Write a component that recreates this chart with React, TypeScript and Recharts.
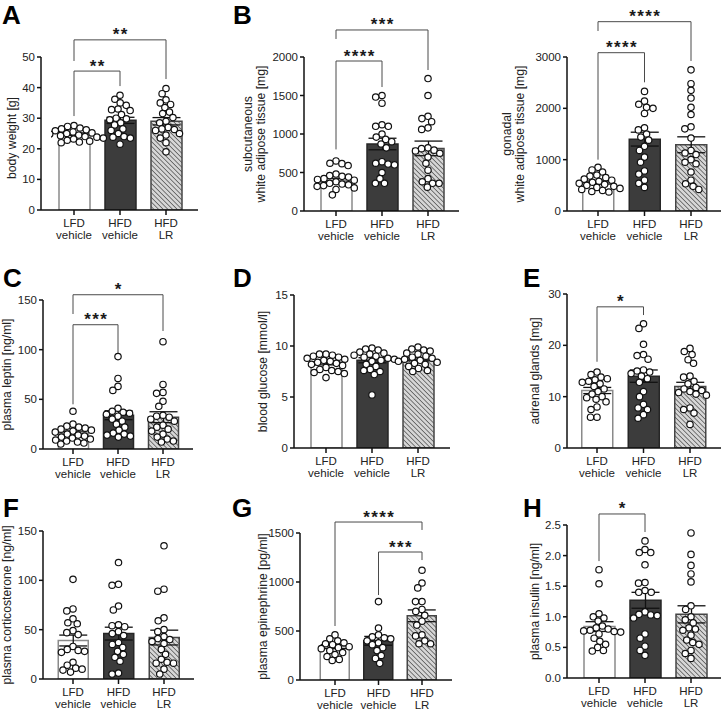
import React from 'react';
import { ComposedChart, Bar, Cell, XAxis, YAxis, Scatter, ErrorBar, ReferenceLine } from 'recharts';

const FONT = '"Liberation Sans", Arial, Helvetica, sans-serif';

const categories = ['LFD vehicle', 'HFD vehicle', 'HFD LR'];

type Bracket = { from: number; to: number; y: number; leftEnd: number; rightEnd: number; label: string };

// A: body weight
const bodyWeightMean = [24.8, 29.3, 29.0];
const bodyWeightSem = [0.4, 1.0, 1.2];
const bodyWeightPoints = [
  [27.6, 27.3, 26.8, 26.5, 26.2, 25.9, 25.5, 25.2, 25.0, 24.8, 24.5, 24.3, 24.0, 23.8, 23.5, 23.2, 22.8, 22.5, 22.2, 22.0],
  [37.5, 36.2, 35.0, 34.2, 33.0, 32.8, 32.5, 31.2, 30.0, 29.8, 29.5, 28.5, 27.8, 26.5, 26.0, 25.0, 24.0, 23.8, 23.5, 21.5],
  [39.7, 38.0, 36.0, 35.0, 34.5, 33.5, 32.0, 31.5, 30.2, 29.0, 28.5, 27.0, 26.5, 26.3, 26.0, 25.0, 24.5, 23.5, 22.0, 19.0],
];
const bodyWeightTicks = [0, 10, 20, 30, 40, 50];
const bodyWeightBrackets: Bracket[] = [
  { from: 1, to: 3, y: 55.6, leftEnd: 48.7, rightEnd: 42.8, label: '**' },
  { from: 1, to: 2, y: 45.4, leftEnd: 30.7, rightEnd: 40.5, label: '**' },
];

// B: subcutaneous WAT
const scWatMean = [400, 870, 813];
const scWatSem = [25, 75, 95];
const scWatPoints = [
  [650, 620, 615, 590, 480, 460, 450, 440, 420, 410, 400, 380, 360, 350, 340, 330, 320, 300, 280, 210],
  [1500, 1480, 1400, 1120, 1100, 1100, 1000, 960, 930, 900, 870, 820, 640, 620, 610, 600, 500, 420, 360, 360],
  [1720, 1500, 1230, 1200, 1160, 1080, 1060, 820, 810, 790, 780, 750, 700, 620, 530, 420, 380, 360, 360, 310],
];
const scWatTicks = [0, 500, 1000, 1500, 2000];
const scWatBrackets: Bracket[] = [
  { from: 1, to: 3, y: 2351, leftEnd: 2234, rightEnd: 1831, label: '***' },
  { from: 1, to: 2, y: 1948, leftEnd: 800, rightEnd: 1610, label: '****' },
];

// B: gonadal WAT
const gonWatMean = [555, 1400, 1290];
const gonWatSem = [30, 135, 155];
const gonWatPoints = [
  [850, 800, 760, 700, 680, 650, 620, 600, 580, 560, 540, 520, 500, 480, 460, 440, 420, 400, 380, 370],
  [2330, 2140, 2080, 2020, 2000, 1900, 1620, 1580, 1500, 1440, 1380, 1260, 1180, 1050, 950, 780, 720, 600, 540, 460],
  [2750, 2480, 2350, 2200, 2020, 1880, 1640, 1600, 1420, 1180, 1130, 1100, 1000, 950, 920, 760, 600, 530, 480, 420],
];
const gonWatTicks = [0, 1000, 2000, 3000];
const gonWatBrackets: Bracket[] = [
  { from: 1, to: 3, y: 3688, leftEnd: 3507, rightEnd: 2922, label: '****' },
  { from: 1, to: 2, y: 3084, leftEnd: 1000, rightEnd: 2507, label: '****' },
];

// C: plasma leptin
const leptinMean = [16, 34, 32];
const leptinSem = [2, 4.5, 5.5];
const leptinPoints = [
  [38, 25, 23, 22, 21, 20, 19, 18, 17, 15, 14, 13, 12, 11, 10, 9, 8, 7, 6, 5],
  [93, 71, 63, 59, 41, 38, 37, 36, 35, 33, 30, 28, 25, 22, 19, 16, 15, 14, 13, 12],
  [108, 65, 57, 56, 48, 43, 34, 33, 32, 30, 28, 24, 22, 20, 18, 15, 12, 10, 8, 7],
];
const leptinTicks = [0, 50, 100, 150];
const leptinBrackets: Bracket[] = [
  { from: 1, to: 3, y: 155.3, leftEnd: 135.9, rightEnd: 118.8, label: '*' },
  { from: 1, to: 2, y: 125.1, leftEnd: 45, rightEnd: 96.6, label: '***' },
];

// D: blood glucose
const glucoseMean = [8.3, 8.6, 8.7];
const glucoseSem = [0.15, 0.25, 0.15];
const glucosePoints = [
  [9.2, 9.2, 9.1, 9.0, 8.9, 8.8, 8.7, 8.6, 8.5, 8.4, 8.3, 8.2, 8.1, 7.9, 7.7, 7.6, 7.5, 7.4, 7.3, 6.9],
  [9.8, 9.7, 9.6, 9.4, 9.3, 9.2, 9.1, 9.0, 8.9, 8.8, 8.7, 8.6, 8.5, 8.2, 8.0, 7.7, 7.6, 7.5, 7.2, 5.2],
  [9.9, 9.7, 9.6, 9.5, 9.3, 9.2, 9.0, 8.9, 8.8, 8.7, 8.6, 8.5, 8.4, 8.3, 8.2, 8.0, 7.8, 7.6, 7.5],
];
const glucoseTicks = [0, 5, 10, 15];

// E: adrenal glands
const adrenalMean = [11.2, 14.0, 12.0];
const adrenalSem = [0.6, 1.2, 0.8];
const adrenalPoints = [
  [14.8, 14.3, 13.8, 13.5, 13.3, 13.0, 12.8, 12.5, 12.0, 11.5, 11.0, 10.5, 10.0, 9.8, 9.5, 9.0, 8.0, 7.5, 6.0, 6.0],
  [24.2, 23.3, 20.2, 18.2, 18.0, 17.3, 15.2, 15.0, 14.8, 14.5, 14.0, 13.5, 12.8, 11.0, 10.0, 8.5, 7.8, 7.5, 6.5, 5.8],
  [19.4, 18.8, 18.2, 17.2, 16.5, 14.0, 13.8, 13.0, 12.5, 11.8, 11.5, 11.2, 11.0, 10.8, 10.5, 10.3, 7.8, 7.5, 6.8, 4.6],
];
const adrenalTicks = [0, 10, 20, 30];
const adrenalBrackets: Bracket[] = [
  { from: 1, to: 2, y: 27.5, leftEnd: 16.8, rightEnd: 25.9, label: '*' },
];

// F: plasma corticosterone
const corticoMean = [39, 46, 42];
const corticoSem = [5.5, 6.5, 7.5];
const corticoPoints = [
  [101, 71, 69, 61, 57, 56, 49, 47, 45, 33, 30, 29, 28, 27, 17, 14, 11, 10, 9, 7],
  [118, 96, 95, 74, 70, 55, 54, 53, 48, 46, 44, 37, 35, 32, 28, 25, 22, 18, 6, 5],
  [135, 91, 89, 62, 59, 50, 48, 43, 41, 40, 38, 36, 30, 25, 20, 17, 16, 16, 10, 5],
];
const corticoTicks = [0, 50, 100, 150];

// G: plasma epinephrine
const epiMean = [340, 400, 655];
const epiSem = [20, 45, 60];
const epiPoints = [
  [460, 420, 400, 380, 370, 360, 340, 330, 320, 300, 280, 260, 240, 210, 200],
  [800, 530, 460, 440, 430, 420, 400, 380, 360, 330, 300, 250, 220, 170],
  [1120, 990, 940, 800, 800, 720, 700, 660, 600, 560, 460, 450, 400, 370, 370],
];
const epiTicks = [0, 500, 1000, 1500];
const epiBrackets: Bracket[] = [
  { from: 1, to: 3, y: 1612, leftEnd: 551, rightEnd: 1531, label: '****' },
  { from: 2, to: 3, y: 1306, leftEnd: 867, rightEnd: 1224, label: '***' },
];

// H: plasma insulin
const insulinMean = [0.84, 1.27, 1.04];
const insulinSem = [0.08, 0.13, 0.14];
const insulinPoints = [
  [1.77, 1.54, 1.05, 1.0, 0.98, 0.93, 0.85, 0.82, 0.8, 0.78, 0.77, 0.76, 0.75, 0.72, 0.65, 0.6, 0.55, 0.5, 0.45, 0.44],
  [2.24, 2.1, 2.05, 2.05, 1.85, 1.56, 1.55, 1.43, 1.4, 1.4, 1.08, 1.04, 1.03, 1.02, 0.98, 0.72, 0.65, 0.52, 0.45, 0.37],
  [2.37, 2.02, 1.84, 1.7, 1.57, 1.18, 1.12, 1.0, 0.95, 0.9, 0.82, 0.8, 0.78, 0.7, 0.62, 0.58, 0.55, 0.45, 0.4, 0.32],
];
const insulinTicks = [0, 0.5, 1.0, 1.5, 2.0, 2.5];
const insulinBrackets: Bracket[] = [
  { from: 1, to: 2, y: 2.68, leftEnd: 1.91, rightEnd: 2.385, label: '*' },
];

// ---------- layout ----------
type Layout = {
  left: number; top: number; width: number; height: number;
  axisX: number; plotTop: number; plotBottom: number; plotRight: number;
  c1: number; c3: number; titleX: number[]; titleY?: number; barSize: number;
};

const layA: Layout = { left: 0, top: 0, width: 236, height: 250, axisX: 41, plotTop: 57, plotBottom: 210, plotRight: 198, c1: 74, c3: 166, titleX: [12], titleY: 138, barSize: 31 };
const layB: Layout = { left: 236, top: 0, width: 238, height: 250, axisX: 304, plotTop: 57, plotBottom: 211, plotRight: 459, c1: 336, c3: 428, titleX: [248, 261], barSize: 31 };
const layB2: Layout = { left: 474, top: 0, width: 248, height: 250, axisX: 567, plotTop: 57, plotBottom: 211, plotRight: 721, c1: 598, c3: 691, titleX: [507, 521], barSize: 31 };
const layC: Layout = { left: 0, top: 240, width: 236, height: 245, axisX: 43, plotTop: 300, plotBottom: 449, plotRight: 193, c1: 73, c3: 163, titleX: [7], barSize: 30 };
const layD: Layout = { left: 236, top: 240, width: 238, height: 245, axisX: 294, plotTop: 295, plotBottom: 448, plotRight: 450, c1: 326, c3: 418, titleX: [263], barSize: 31 };
const layE: Layout = { left: 474, top: 240, width: 248, height: 245, axisX: 567, plotTop: 294, plotBottom: 448, plotRight: 721, c1: 597, c3: 690, titleX: [535], barSize: 31 };
const layF: Layout = { left: 0, top: 470, width: 236, height: 240, axisX: 43, plotTop: 531, plotBottom: 679, plotRight: 194, c1: 73, c3: 164, titleX: [7], barSize: 30 };
const layG: Layout = { left: 236, top: 470, width: 238, height: 240, axisX: 300, plotTop: 533, plotBottom: 680, plotRight: 452, c1: 335, c3: 422, titleX: [263], barSize: 29 };
const layH: Layout = { left: 474, top: 470, width: 248, height: 240, axisX: 567, plotTop: 525, plotBottom: 678, plotRight: 721, c1: 599, c3: 691, titleX: [535], barSize: 31 };

const BAR_FILL = ['#ffffff', '#3c3c3c', 'url(#hatchLR)'];
const BAR_STROKE = ['#8a8a8a', '#262626', '#454545'];
const DOT_R = 3.2;

function swarm(values: number[], pxPerUnit: number, r: number) {
  const d = 2 * r + 0.1;
  const placed: { y: number; dx: number; v: number }[] = [];
  const sorted = [...values].sort((a, b) => b - a);
  for (const v of sorted) {
    const y = v * pxPerUnit;
    const intervals: [number, number][] = [];
    for (const p of placed) {
      const dy = Math.abs(p.y - y);
      if (dy < d) {
        const w = Math.sqrt(d * d - dy * dy);
        intervals.push([p.dx - w, p.dx + w]);
      }
    }
    const cands = [0];
    intervals.forEach(([a, b]) => { cands.push(a, b); });
    const order = cands.map((c, i) => ({ c, i })).sort((a, b) => Math.abs(a.c) - Math.abs(b.c) || a.i - b.i);
    let best = 0;
    for (const { c } of order) {
      if (intervals.every(([a, b]) => c <= a + 1e-6 || c >= b - 1e-6)) { best = c; break; }
    }
    placed.push({ y, dx: best, v });
  }
  return placed;
}

const XTick = (props: any) => {
  const { x, y, payload } = props;
  const parts = String(payload.value).split(' ');
  return (
    <text x={x} y={y} textAnchor="middle" fontSize={11.5} fontFamily={FONT} fill="#222">
      <tspan x={x} dy={10}>{parts[0]}</tspan>
      <tspan x={x} dy={12.2}>{parts[1]}</tspan>
    </text>
  );
};

const YTitle = (props: any) => {
  const { tx, ty, lines } = props;
  return (
    <text transform={`translate(${tx},${ty}) rotate(-90)`} textAnchor="middle" fontSize={12.2} fontFamily={FONT} fill="#222">
      {lines.map((l: string, i: number) => (
        <tspan key={i} x={0} dy={i === 0 ? 0 : 13}>{l}</tspan>
      ))}
    </text>
  );
};

const Stars = (props: any) => {
  const vb = props.viewBox || {};
  return (
    <text x={vb.x + vb.width / 2 + 0.7} y={vb.y + 0.5} textAnchor="middle" fontSize={17} fontWeight={700} letterSpacing={1.4} fontFamily={FONT} fill="#1a1a1a">
      {props.text}
    </text>
  );
};

const Dot = (props: any) => (
  <circle cx={props.cx} cy={props.cy} r={DOT_R} fill="#ffffff" stroke="#111" strokeWidth={1.2} />
);

type PanelProps = {
  lay: Layout; title: string[]; mean: number[]; sem: number[]; points: number[][];
  ticks: number[]; brackets?: Bracket[]; decimals?: number;
};

function Panel({ lay, title, mean, sem, points, ticks, brackets = [], decimals = 0 }: PanelProps) {
  const band = (lay.c3 - lay.c1) / 2;
  const padL = lay.c1 - band / 2 - lay.axisX;
  const padR = lay.plotRight - (lay.c3 + band / 2);
  const yMax = ticks[ticks.length - 1];
  const pxPerUnit = (lay.plotBottom - lay.plotTop) / yMax;
  const barData = categories.map((c, i) => ({ name: c, mean: mean[i], sem: sem[i] }));
  const scatterData: { px: number; py: number }[] = [];
  points.forEach((vals, g) => {
    swarm(vals, pxPerUnit, DOT_R).forEach((p) => scatterData.push({ px: g + 1 + p.dx / band, py: p.v }));
  });
  const xAxisH = lay.top + lay.height - lay.plotBottom;
  const titleCenterY = (lay.titleY ?? (lay.plotTop + lay.plotBottom) / 2) - lay.top;
  const titleBaseX = lay.titleX[0] + 4.2 - lay.left;
  const lineStyle = { stroke: '#4a4a4a', strokeWidth: 1 };

  return (
    <div style={{ position: 'absolute', left: lay.left, top: lay.top }}>
      <ComposedChart
        width={lay.width}
        height={lay.height}
        data={barData}
        margin={{ top: lay.plotTop - lay.top, right: lay.left + lay.width - lay.plotRight, bottom: 0, left: 0 }}
      >
        <XAxis
          xAxisId="cat"
          dataKey="name"
          type="category"
          height={xAxisH}
          padding={{ left: padL, right: padR }}
          tick={<XTick />}
          tickSize={5}
          tickMargin={2}
          interval={0}
          axisLine={{ stroke: '#111', strokeWidth: 1.5 }}
          tickLine={{ stroke: '#111', strokeWidth: 1.5 }}
        />
        <XAxis
          xAxisId="num"
          dataKey="px"
          type="number"
          domain={[0.5, 3.5]}
          allowDataOverflow
          hide
          height={0}
          padding={{ left: padL, right: padR }}
        />
        <YAxis
          width={lay.axisX - lay.left}
          domain={[0, yMax]}
          ticks={ticks}
          interval={0}
          allowDataOverflow
          tickSize={4}
          tickMargin={2}
          tickFormatter={(v: number) => v.toFixed(decimals)}
          tick={{ fill: '#222', fontSize: 11.5, fontFamily: FONT }}
          axisLine={{ stroke: '#111', strokeWidth: 1.5 }}
          tickLine={{ stroke: '#111', strokeWidth: 1.5 }}
          label={<YTitle tx={titleBaseX} ty={titleCenterY} lines={title} />}
        />
        <Bar xAxisId="cat" dataKey="mean" barSize={lay.barSize} isAnimationActive={false} strokeWidth={1.5}>
          {barData.map((_, i) => (
            <Cell key={i} fill={BAR_FILL[i]} stroke={BAR_STROKE[i]} />
          ))}
          <ErrorBar dataKey="sem" direction="y" width={14} stroke="#111" strokeWidth={1.3} isAnimationActive={false} />
        </Bar>
        <Scatter xAxisId="num" data={scatterData} dataKey="py" shape={<Dot />} isAnimationActive={false} />
        {brackets.map((b, i) => (
          <ReferenceLine key={`l${i}`} xAxisId="num" ifOverflow="visible" segment={[{ x: b.from, y: b.leftEnd }, { x: b.from, y: b.y }]} {...lineStyle} />
        ))}
        {brackets.map((b, i) => (
          <ReferenceLine key={`h${i}`} xAxisId="num" ifOverflow="visible" segment={[{ x: b.from, y: b.y }, { x: b.to, y: b.y }]} {...lineStyle} label={<Stars text={b.label} />} />
        ))}
        {brackets.map((b, i) => (
          <ReferenceLine key={`r${i}`} xAxisId="num" ifOverflow="visible" segment={[{ x: b.to, y: b.y }, { x: b.to, y: b.rightEnd }]} {...lineStyle} />
        ))}
      </ComposedChart>
    </div>
  );
}

const panelLetters = ['A', 'B', 'C', 'D', 'E', 'F', 'G', 'H'];
const letterPos = [[2, 5], [233, 5], [3, 268], [233, 268], [523, 268], [3, 498], [232, 498], [523, 498]];

export default function App() {
  return (
    <div style={{ position: 'absolute', left: 0, top: 0, width: 722, height: 710, background: '#fff', overflow: 'hidden' }}>
      <svg width={722} height={710} style={{ position: 'absolute', left: 0, top: 0 }}>
        <defs>
          <pattern id="hatchLR" patternUnits="userSpaceOnUse" width={3.3} height={3.3} patternTransform="rotate(-45)">
            <rect x={0} y={0} width={3.3} height={3.3} fill="#d6d6d6" />
            <line x1={0} y1={0} x2={0} y2={3.3} stroke="#404040" strokeWidth={1.3} />
          </pattern>
        </defs>
        {panelLetters.map((l, i) => (
          <text key={l} x={letterPos[i][0]} y={letterPos[i][1] + 18.6} fontSize={26} fontWeight={700} fontFamily={FONT} fill="#000">{l}</text>
        ))}
      </svg>
      <Panel lay={layA} title={['body weight [g]']} mean={bodyWeightMean} sem={bodyWeightSem} points={bodyWeightPoints} ticks={bodyWeightTicks} brackets={bodyWeightBrackets} />
      <Panel lay={layB} title={['subcutaneous', 'white adipose tissue [mg]']} mean={scWatMean} sem={scWatSem} points={scWatPoints} ticks={scWatTicks} brackets={scWatBrackets} />
      <Panel lay={layB2} title={['gonadal', 'white adipose tissue [mg]']} mean={gonWatMean} sem={gonWatSem} points={gonWatPoints} ticks={gonWatTicks} brackets={gonWatBrackets} />
      <Panel lay={layC} title={['plasma leptin [ng/ml]']} mean={leptinMean} sem={leptinSem} points={leptinPoints} ticks={leptinTicks} brackets={leptinBrackets} />
      <Panel lay={layD} title={['blood glucose [mmol/l]']} mean={glucoseMean} sem={glucoseSem} points={glucosePoints} ticks={glucoseTicks} />
      <Panel lay={layE} title={['adrenal glands [mg]']} mean={adrenalMean} sem={adrenalSem} points={adrenalPoints} ticks={adrenalTicks} brackets={adrenalBrackets} />
      <Panel lay={layF} title={['plasma corticosterone [ng/ml]']} mean={corticoMean} sem={corticoSem} points={corticoPoints} ticks={corticoTicks} />
      <Panel lay={layG} title={['plasma epinephrine [pg/ml]']} mean={epiMean} sem={epiSem} points={epiPoints} ticks={epiTicks} brackets={epiBrackets} />
      <Panel lay={layH} title={['plasma insulin [ng/ml]']} mean={insulinMean} sem={insulinSem} points={insulinPoints} ticks={insulinTicks} brackets={insulinBrackets} decimals={1} />
    </div>
  );
}
